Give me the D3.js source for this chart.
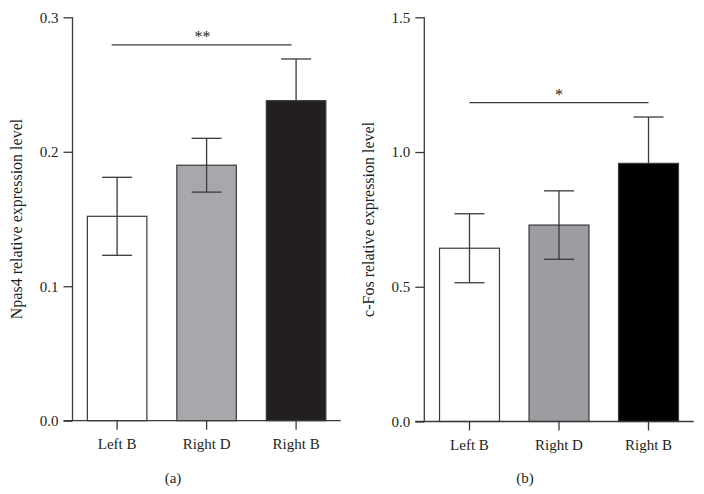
<!DOCTYPE html>
<html>
<head>
<meta charset="utf-8">
<script src="https://cdn.jsdelivr.net/npm/d3@7"></script>
<style>
  body { margin: 0; background: #fff; }
  svg { display: block; }
  text { font-family: "Liberation Serif", "Times New Roman", serif; fill: #231f20; }
</style>
</head>
<body>
<svg id="chart" width="704" height="494"></svg>
<script>
const categories = ["Left B", "Right D", "Right B"];
const npas4Values = [0.152, 0.190, 0.238];
const npas4Errors = [0.029, 0.020, 0.031];
const npas4Ticks = [0.0, 0.1, 0.2, 0.3];
const cfosValues = [0.643, 0.729, 0.958];
const cfosErrors = [0.128, 0.127, 0.172];
const cfosTicks = [0.0, 0.5, 1.0, 1.5];

const svg = d3.select("#chart");

function panel(opts) {
  const g = svg.append("g");
  const y = d3.scaleLinear().domain(opts.domain).range([opts.y0, opts.y1]);
  const x = d3.scaleBand().domain(categories).range([opts.xStart, opts.xEnd])
    .paddingInner(opts.padIn).paddingOuter(opts.padOut);
  const cx = i => x(categories[i]) + x.bandwidth() / 2;

  // bars
  g.selectAll("rect.bar").data(opts.values).join("rect")
    .attr("class", "bar")
    .attr("x", (d, i) => x(categories[i]))
    .attr("width", x.bandwidth())
    .attr("y", d => y(d))
    .attr("height", d => y(0) - y(d))
    .attr("fill", (d, i) => opts.colors[i])
    .attr("stroke", "#3a3a3a")
    .attr("stroke-width", 1.2);

  // error bars (lower whisker hidden inside the dark bar)
  const eb = g.selectAll("g.err").data(opts.values).join("g").attr("class", "err");
  eb.append("line")
    .attr("x1", (d, i) => cx(i)).attr("x2", (d, i) => cx(i))
    .attr("y1", (d, i) => opts.showLower[i] ? y(d - opts.errors[i]) : y(d))
    .attr("y2", (d, i) => y(d + opts.errors[i]))
    .attr("stroke", "#3a3a3a").attr("stroke-width", 1.3);
  eb.append("line")
    .attr("x1", (d, i) => cx(i) - 15).attr("x2", (d, i) => cx(i) + 15)
    .attr("y1", (d, i) => y(d + opts.errors[i])).attr("y2", (d, i) => y(d + opts.errors[i]))
    .attr("stroke", "#3a3a3a").attr("stroke-width", 1.3);
  eb.filter((d, i) => opts.showLower[i]).append("line")
    .attr("x1", function(d) { const i = opts.values.indexOf(d); return cx(i) - 15; })
    .attr("x2", function(d) { const i = opts.values.indexOf(d); return cx(i) + 15; })
    .attr("y1", function(d) { const i = opts.values.indexOf(d); return y(d - opts.errors[i]); })
    .attr("y2", function(d) { const i = opts.values.indexOf(d); return y(d - opts.errors[i]); })
    .attr("stroke", "#3a3a3a").attr("stroke-width", 1.3);

  // y axis
  const ya = g.append("g").attr("transform", `translate(${opts.axisX},0)`)
    .call(d3.axisLeft(y).tickValues(opts.ticks).tickFormat(d3.format(".1f")).tickSize(9).tickPadding(5));
  ya.select(".domain").attr("stroke", "#3a3a3a").attr("stroke-width", 1.3).attr("d", `M0,${opts.y1}V${opts.y0}`);
  ya.selectAll(".tick line").attr("stroke", "#3a3a3a").attr("stroke-width", 1.3);
  ya.selectAll(".tick text").attr("font-size", 15).attr("font-family", "Liberation Serif").attr("fill", "#231f20");

  // x axis
  const xa = g.append("g").attr("transform", `translate(0,${opts.y0})`)
    .call(d3.axisBottom(x).tickSize(9).tickPadding(6));
  xa.select(".domain").attr("stroke", "#3a3a3a").attr("stroke-width", 1.3).attr("d", `M${opts.axisX - 9},0H${opts.xEnd}`);
  xa.selectAll(".tick line").attr("stroke", "#3a3a3a").attr("stroke-width", 1.3);
  xa.selectAll(".tick text").attr("font-size", 15).attr("font-family", "Liberation Serif").attr("fill", "#231f20").attr("dy", "0.9em");

  // y label
  g.append("text")
    .attr("transform", `translate(${opts.labelX},${(opts.y0 + opts.y1) / 2}) rotate(-90)`)
    .attr("text-anchor", "middle")
    .attr("font-size", 16)
    .text(opts.ylabel);

  // significance
  const sx0 = cx(0) - opts.sigShiftL;
  const sx1 = cx(2) - opts.sigShiftR;
  g.append("line").attr("x1", sx0).attr("x2", sx1)
    .attr("y1", y(opts.sigLevel)).attr("y2", y(opts.sigLevel))
    .attr("stroke", "#3a3a3a").attr("stroke-width", 1.3);
  g.append("text").attr("x", cx(1) + opts.starShift)
    .attr("y", y(opts.sigLevel) - 3)
    .attr("text-anchor", "middle").attr("font-size", 16)
    .text(opts.stars);

  // panel letter
  g.append("text").attr("x", opts.letterX).attr("y", 483)
    .attr("text-anchor", "middle").attr("font-size", 15)
    .text(opts.letter);
}

panel({
  domain: [0, 0.3], y0: 420.7, y1: 17.3,
  xStart: 72.5, xEnd: 340.7, axisX: 72.5, padIn: 0.335, padOut: 0.166,
  values: npas4Values, errors: npas4Errors, ticks: npas4Ticks,
  colors: ["#ffffff", "#a7a8ab", "#231f20"], showLower: [true, true, false],
  ylabel: "Npas4 relative expression level", labelX: 22,
  sigLevel: 0.2795, sigShiftL: 5.5, sigShiftR: 4.5, stars: "**", starShift: -4,
  letter: "(a)", letterX: 173
});

panel({
  domain: [0, 1.5], y0: 421.5, y1: 17.3,
  xStart: 424.3, xEnd: 693.7, axisX: 424.3, padIn: 0.33, padOut: 0.17,
  values: cfosValues, errors: cfosErrors, ticks: cfosTicks,
  colors: ["#ffffff", "#9d9ca1", "#000000"], showLower: [true, true, false],
  ylabel: "c-Fos relative expression level", labelX: 374,
  sigLevel: 1.183, sigShiftL: 0, sigShiftR: 0, stars: "*", starShift: 0,
  letter: "(b)", letterX: 525
});
</script>
</body>
</html>
